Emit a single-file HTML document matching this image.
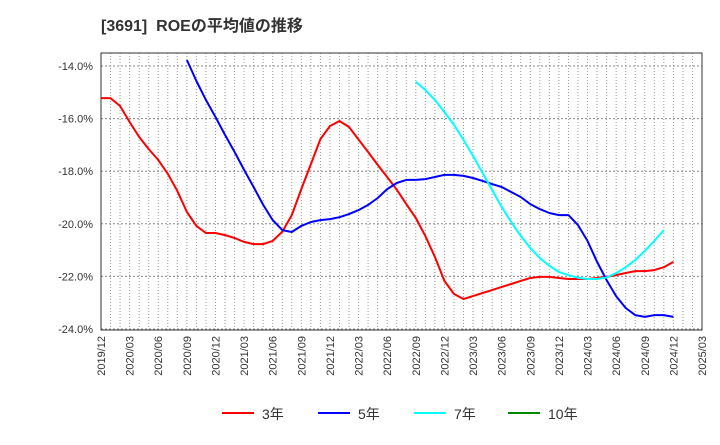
<!DOCTYPE html>
<html><head><meta charset="utf-8"><style>
body{margin:0;background:#fff;font-family:"Liberation Sans","Noto Sans CJK JP",sans-serif}
svg text{font-family:"Liberation Sans","Noto Sans CJK JP",sans-serif}
</style></head><body>
<svg id="chart" width="720" height="440">
<text x="101" y="31" font-size="16" font-weight="bold" fill="#333" xml:space="preserve">[3691]  ROEの平均値の推移</text>
<g id="grid"></g><g id="axes"></g><g id="series"></g><g id="legend"></g>
</svg>
<script>
const xLabels=["2019/12","2020/03","2020/06","2020/09","2020/12","2021/03","2021/06","2021/09","2021/12","2022/03","2022/06","2022/09","2022/12","2023/03","2023/06","2023/09","2023/12","2024/03","2024/06","2024/09","2024/12","2025/03"];
const yTicks=[-14,-16,-18,-20,-22,-24];
const s3=[-15.22,-15.22,-15.52,-16.13,-16.7,-17.16,-17.57,-18.1,-18.75,-19.55,-20.08,-20.35,-20.35,-20.43,-20.54,-20.69,-20.77,-20.77,-20.65,-20.3,-19.67,-18.68,-17.73,-16.78,-16.28,-16.09,-16.32,-16.8,-17.27,-17.76,-18.22,-18.7,-19.25,-19.78,-20.46,-21.26,-22.17,-22.67,-22.86,-22.75,-22.63,-22.52,-22.4,-22.29,-22.17,-22.06,-22.02,-22.02,-22.06,-22.1,-22.1,-22.1,-22.06,-22.02,-21.95,-21.87,-21.8,-21.8,-21.76,-21.65,-21.45];
const s5Start=9;
const s5=[-13.77,-14.57,-15.29,-15.94,-16.62,-17.27,-17.95,-18.6,-19.28,-19.86,-20.24,-20.31,-20.08,-19.93,-19.86,-19.82,-19.75,-19.63,-19.48,-19.28,-19.02,-18.68,-18.45,-18.33,-18.33,-18.3,-18.22,-18.14,-18.14,-18.18,-18.26,-18.37,-18.49,-18.6,-18.79,-18.98,-19.25,-19.44,-19.59,-19.67,-19.67,-20.05,-20.65,-21.45,-22.14,-22.75,-23.2,-23.47,-23.54,-23.47,-23.47,-23.54];
const s7Start=33;
const s7=[-14.6,-14.91,-15.29,-15.75,-16.24,-16.81,-17.42,-18.07,-18.71,-19.36,-19.93,-20.46,-20.92,-21.3,-21.6,-21.83,-21.95,-22.05,-22.1,-22.1,-22.04,-21.88,-21.65,-21.38,-21.03,-20.65,-20.24];
const NS="http://www.w3.org/2000/svg";
const L=101,R=702,T=53,B=330,months=63;
const xs=i=>L+(R-L)*i/months;
const ys=v=>66+(v+14)*(329-66)/(-10);
function mk(tag,attrs,parent){const e=document.createElementNS(NS,tag);for(const k in attrs)e.setAttribute(k,attrs[k]);parent.appendChild(e);return e;}
const grid=document.getElementById('grid'),axes=document.getElementById('axes'),ser=document.getElementById('series'),leg=document.getElementById('legend');
for(let i=1;i<months;i++){const l=mk('line',{x1:xs(i),x2:xs(i),y1:T,y2:B,stroke:'#999','stroke-dasharray':'1,2','stroke-width':1},grid);

}
yTicks.forEach(v=>{const l=mk('line',{x1:L,x2:R,y1:ys(v),y2:ys(v),stroke:'#888','stroke-dasharray':'2,2','stroke-width':1},grid);


const t=mk('text',{x:L-8,y:ys(v)+4,'text-anchor':'end','font-size':11,fill:'#333'},axes);t.textContent=v.toFixed(1)+'%';

});
const frame=mk('rect',{x:L,y:T,width:R-L,height:B-T,fill:'none',stroke:'#333','stroke-width':1},axes);


xLabels.forEach((lab,k)=>{const x=xs(k*3);const t=mk('text',{x:x+4,y:B+6,'text-anchor':'end','font-size':11,fill:'#333',transform:`rotate(-90 ${x+4} ${B+6})`},axes);t.textContent=lab;

});
function line(arr,start,color,name){const pts=arr.map((v,i)=>xs(start+i).toFixed(1)+','+ys(v).toFixed(1)).join(' ');
const p=mk('polyline',{points:pts,fill:'none',stroke:color,'stroke-width':2,'stroke-linejoin':'round'},ser);

}
line(s3,0,'#f00','series-3y');
line(s5,s5Start,'#00f','series-5y');
line(s7,s7Start,'#0ff','series-7y');
const legItems=[["3年","#f00",222],["5年","#00f",318],["7年","#0ff",414],["10年","#080",508]];
legItems.forEach(([lab,c,x])=>{const g=mk('g',{},leg);


mk('line',{x1:x,x2:x+32,y1:413,y2:413,stroke:c,'stroke-width':2},g);
const t=mk('text',{x:x+40,y:419,'font-size':14,fill:'#333'},g);t.textContent=lab;});
</script>
</body></html>
